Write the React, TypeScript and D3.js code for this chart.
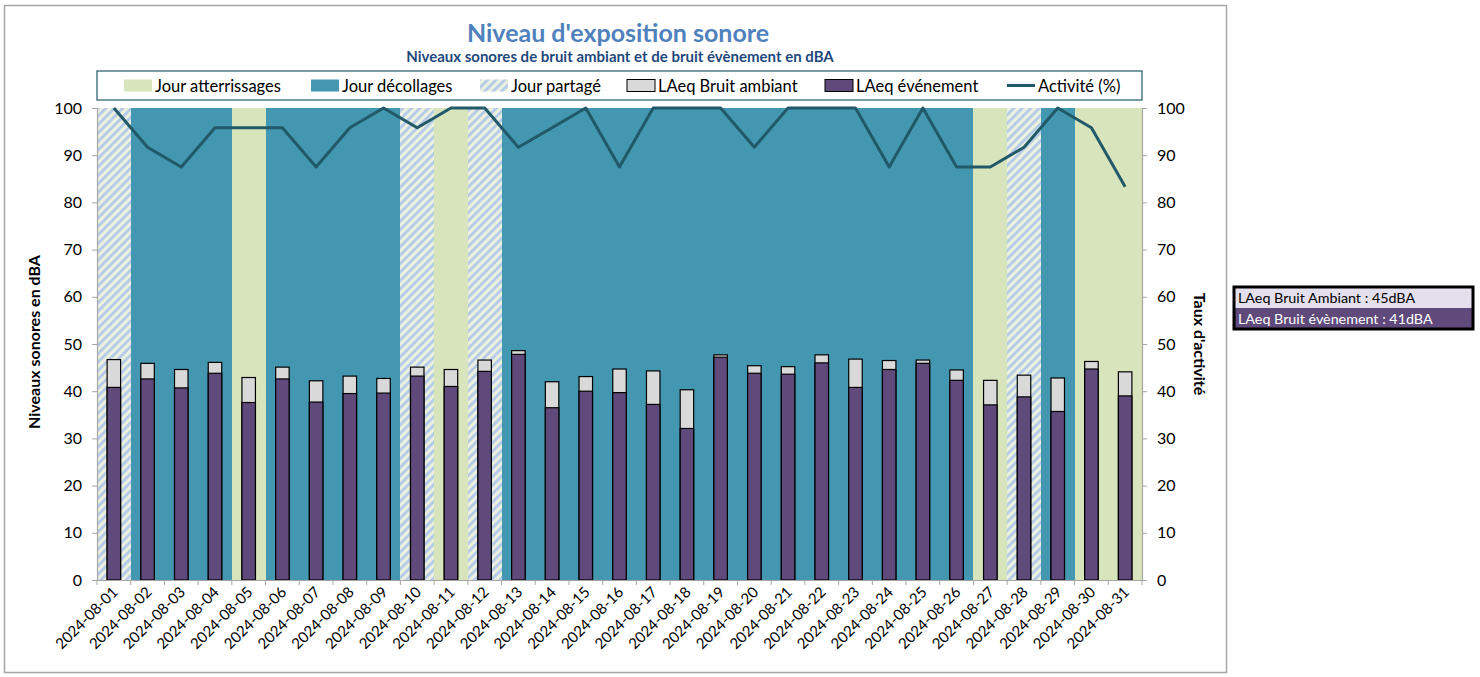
import { useEffect, useRef } from "react";
import * as d3 from "d3";

const dates = [
  "2024-08-01", "2024-08-02", "2024-08-03", "2024-08-04", "2024-08-05", "2024-08-06",
  "2024-08-07", "2024-08-08", "2024-08-09", "2024-08-10", "2024-08-11", "2024-08-12",
  "2024-08-13", "2024-08-14", "2024-08-15", "2024-08-16", "2024-08-17", "2024-08-18",
  "2024-08-19", "2024-08-20", "2024-08-21", "2024-08-22", "2024-08-23", "2024-08-24",
  "2024-08-25", "2024-08-26", "2024-08-27", "2024-08-28", "2024-08-29", "2024-08-30",
  "2024-08-31",
];

// A = atterrissages, D = décollages, P = partagé
const dayType = [
  "P", "D", "D", "D", "A", "D", "D", "D", "D", "P", "A", "P", "D", "D", "D", "D",
  "D", "D", "D", "D", "D", "D", "D", "D", "D", "D", "A", "P", "D", "A", "A",
];

const ambient = [
  46.7, 45.9, 44.6, 46.1, 42.9, 45.1, 42.2, 43.2, 42.7, 45.1, 44.6, 46.6, 48.6, 42.0,
  43.1, 44.7, 44.3, 40.3, 47.7, 45.4, 45.2, 47.7, 46.8, 46.5, 46.6, 44.5, 42.3, 43.4,
  42.8, 46.3, 44.1,
];

const event = [
  40.8, 42.6, 40.7, 43.8, 37.6, 42.6, 37.7, 39.5, 39.6, 43.2, 41.0, 44.2, 47.8, 36.5,
  40.0, 39.7, 37.2, 32.1, 47.2, 43.8, 43.6, 46.0, 40.8, 44.6, 45.9, 42.3, 37.1, 38.8,
  35.7, 44.7, 39.0,
];

const activity = [
  100, 91.7, 87.5, 95.8, 95.8, 95.8, 87.5, 95.8, 100, 95.8, 100, 100, 91.7, 95.8, 100,
  87.5, 100, 100, 100, 91.7, 100, 100, 100, 87.5, 100, 87.5, 87.5, 91.7, 100, 95.8, 83.3,
];

const yTicks = [0, 10, 20, 30, 40, 50, 60, 70, 80, 90, 100];

const legendItems = [
  { label: "Jour atterrissages", kind: "A" },
  { label: "Jour décollages", kind: "D" },
  { label: "Jour partagé", kind: "P" },
  { label: "LAeq Bruit ambiant", kind: "amb" },
  { label: "LAeq événement", kind: "evt" },
  { label: "Activité (%)", kind: "line" },
];

const summary = [
  { label: "LAeq Bruit Ambiant : 45dBA", bg: "#E4DFEC", fg: "#000" },
  { label: "LAeq Bruit évènement : 41dBA", bg: "#604A7B", fg: "#fff" },
];

const FONT = "Lato, 'Open Sans', sans-serif";
const C_LAND = "#D8E4BC";
const C_TAKE = "#4397B0";
const C_AMB = "#D9D9D9";
const C_EVT = "#604A7B";
const C_LINE = "#215968";

export default function App() {
  const ref = useRef<SVGSVGElement | null>(null);

  useEffect(() => {
    if (!ref.current) return;
    const width = 1480;
    const height = 677;
    const plot = { left: 97, right: 1142, top: 108, bottom: 580 };

    const svg = d3.select(ref.current).attr("viewBox", `0 0 ${width} ${height}`);
    svg.selectAll("*").remove();

    const defs = svg.append("defs");
    const pat = defs
      .append("pattern")
      .attr("id", "hatch")
      .attr("patternUnits", "userSpaceOnUse")
      .attr("width", 6)
      .attr("height", 6)
      .attr("patternTransform", "rotate(45)");
    pat.append("rect").attr("width", 6).attr("height", 6).attr("fill", "#EBF1DE");
    pat.append("rect").attr("width", 2.8).attr("height", 6).attr("fill", "#B4CAE8");

    const fillFor = (k: string) => (k === "A" ? C_LAND : k === "D" ? C_TAKE : "url(#hatch)");

    // chart frame
    svg.append("rect")
      .attr("x", 4.5).attr("y", 5.5).attr("width", 1222).attr("height", 667)
      .attr("fill", "#fff").attr("stroke", "#A6A6A6").attr("stroke-width", 1.5);

    const x = d3.scaleBand<string>().domain(dates).range([plot.left, plot.right]).padding(0);
    const y = d3.scaleLinear().domain([0, 100]).range([plot.bottom, plot.top]);

    /* ---------------- DAY BACKGROUNDS ---------------- */
    svg.append("g").selectAll("rect")
      .data(dates)
      .enter()
      .append("rect")
      .attr("x", d => x(d)!)
      .attr("y", y(100))
      .attr("width", (_, i) => x.bandwidth() + (i < dates.length - 1 ? 1 : 0))
      .attr("height", y(0) - y(100))
      .attr("shape-rendering", "crispEdges")
      .attr("fill", (_, i) => fillFor(dayType[i]));

    /* ---------------- BARS ---------------- */
    const bw = x.bandwidth() * 0.4;
    const bx = (d: string) => x(d)! + (x.bandwidth() - bw) / 2;

    svg.append("g").selectAll("rect")
      .data(dates)
      .enter()
      .append("rect")
      .attr("x", d => bx(d))
      .attr("y", (_, i) => y(ambient[i]))
      .attr("width", bw)
      .attr("height", (_, i) => y(0) - y(ambient[i]))
      .attr("fill", C_AMB)
      .attr("stroke", "#000")
      .attr("stroke-width", 1.2);

    svg.append("g").selectAll("rect")
      .data(dates)
      .enter()
      .append("rect")
      .attr("x", d => bx(d))
      .attr("y", (_, i) => y(event[i]))
      .attr("width", bw)
      .attr("height", (_, i) => y(0) - y(event[i]))
      .attr("fill", C_EVT)
      .attr("stroke", "#000")
      .attr("stroke-width", 1.2);

    /* ---------------- ACTIVITY LINE ---------------- */
    const line = d3.line<number>()
      .x((_, i) => x(dates[i])! + x.bandwidth() / 2)
      .y(d => y(d));

    svg.append("path")
      .datum(activity)
      .attr("fill", "none")
      .attr("stroke", C_LINE)
      .attr("stroke-width", 3)
      .attr("stroke-linejoin", "round")
      .attr("d", line);

    /* ---------------- AXES ---------------- */
    const axisColor = "#A6A6A6";
    const yl = svg.append("g").attr("transform", `translate(${plot.left},0)`)
      .call(d3.axisLeft(y).tickValues(yTicks).tickSize(5).tickPadding(10));
    const yr = svg.append("g").attr("transform", `translate(${plot.right},0)`)
      .call(d3.axisRight(y).tickValues(yTicks).tickSize(5).tickPadding(10));
    const xa = svg.append("g").attr("transform", `translate(0,${plot.bottom})`)
      .call(d3.axisBottom(x).tickSize(0).tickFormat(() => ""));

    [yl, yr, xa].forEach(g => {
      g.select(".domain").attr("stroke", axisColor).attr("stroke-width", 1.2);
      g.selectAll(".tick line").attr("stroke", axisColor);
      g.selectAll("text").attr("font-family", FONT).attr("font-size", 16).attr("fill", "#000");
    });

    // x ticks at band boundaries
    const bounds = dates.map(d => x(d)!).concat([plot.right]);
    svg.append("g").selectAll("line")
      .data(bounds)
      .enter()
      .append("line")
      .attr("x1", d => d).attr("x2", d => d)
      .attr("y1", plot.bottom).attr("y2", plot.bottom + 5)
      .attr("stroke", axisColor);

    svg.append("g").selectAll("text")
      .data(dates)
      .enter()
      .append("text")
      .attr("transform", d => `translate(${x(d)! + x.bandwidth() / 2 + 5},${plot.bottom + 13}) rotate(-45)`)
      .attr("text-anchor", "end")
      .attr("font-family", FONT)
      .attr("font-size", 15)
      .text(d => d);

    /* ---------------- TITLES ---------------- */
    svg.append("text")
      .attr("x", 618).attr("y", 42)
      .attr("text-anchor", "middle")
      .attr("font-family", FONT).attr("font-weight", "bold").attr("font-size", 25)
      .attr("fill", "#4F81BD")
      .text("Niveau d'exposition sonore");

    svg.append("text")
      .attr("x", 620).attr("y", 62)
      .attr("text-anchor", "middle")
      .attr("font-family", FONT).attr("font-weight", "bold").attr("font-size", 15)
      .attr("fill", "#1F497D")
      .text("Niveaux sonores de bruit ambiant et de bruit évènement en dBA");

    svg.append("text")
      .attr("transform", `translate(40,${(plot.top + plot.bottom) / 2 - 2}) rotate(-90)`)
      .attr("text-anchor", "middle")
      .attr("font-family", FONT).attr("font-weight", "bold").attr("font-size", 16)
      .text("Niveaux sonores en dBA");

    svg.append("text")
      .attr("transform", `translate(1194,${(plot.top + plot.bottom) / 2}) rotate(90)`)
      .attr("text-anchor", "middle")
      .attr("font-family", FONT).attr("font-weight", "bold").attr("font-size", 16)
      .text("Taux d'activité");

    /* ---------------- LEGEND ---------------- */
    svg.append("rect")
      .attr("x", 97).attr("y", 71).attr("width", 1045).attr("height", 29)
      .attr("fill", "#fff").attr("stroke", "#215968").attr("stroke-width", 1.2);

    const legendX = [124, 311, 480, 627, 825, 1007];
    const lg = svg.append("g").selectAll("g")
      .data(legendItems)
      .enter()
      .append("g")
      .attr("transform", (_, i) => `translate(${legendX[i]},85.5)`);

    lg.each(function (d) {
      const g = d3.select(this);
      if (d.kind === "line") {
        g.append("line").attr("x1", 0).attr("x2", 28).attr("y1", 0).attr("y2", 0)
          .attr("stroke", C_LINE).attr("stroke-width", 3);
      } else {
        const fill = d.kind === "amb" ? C_AMB : d.kind === "evt" ? C_EVT : fillFor(d.kind);
        const stroke = d.kind === "amb" || d.kind === "evt" ? "#000" : "none";
        g.append("rect").attr("x", 0).attr("y", -6).attr("width", 28).attr("height", 12)
          .attr("fill", fill).attr("stroke", stroke);
      }
      g.append("text").attr("x", 31).attr("y", 6)
        .attr("font-family", FONT).attr("font-size", 16.5)
        .text(d.label);
    });

    /* ---------------- SUMMARY BOX ---------------- */
    const sb = svg.append("g").attr("transform", "translate(1234,287)");
    summary.forEach((s, i) => {
      sb.append("rect").attr("x", 0).attr("y", i * 21).attr("width", 239).attr("height", 21)
        .attr("fill", s.bg);
      sb.append("text").attr("x", 4).attr("y", i * 21 + 15.5)
        .attr("font-family", FONT).attr("font-size", 14.3).attr("fill", s.fg)
        .text(s.label);
    });
    sb.append("rect").attr("x", 0).attr("y", 0).attr("width", 239).attr("height", 42)
      .attr("fill", "none").attr("stroke", "#000").attr("stroke-width", 3);
  }, []);

  return (
    <svg
      ref={ref}
      width={1480}
      height={677}
      style={{ position: "absolute", left: 0, top: 0, display: "block" }}
    />
  );
}
